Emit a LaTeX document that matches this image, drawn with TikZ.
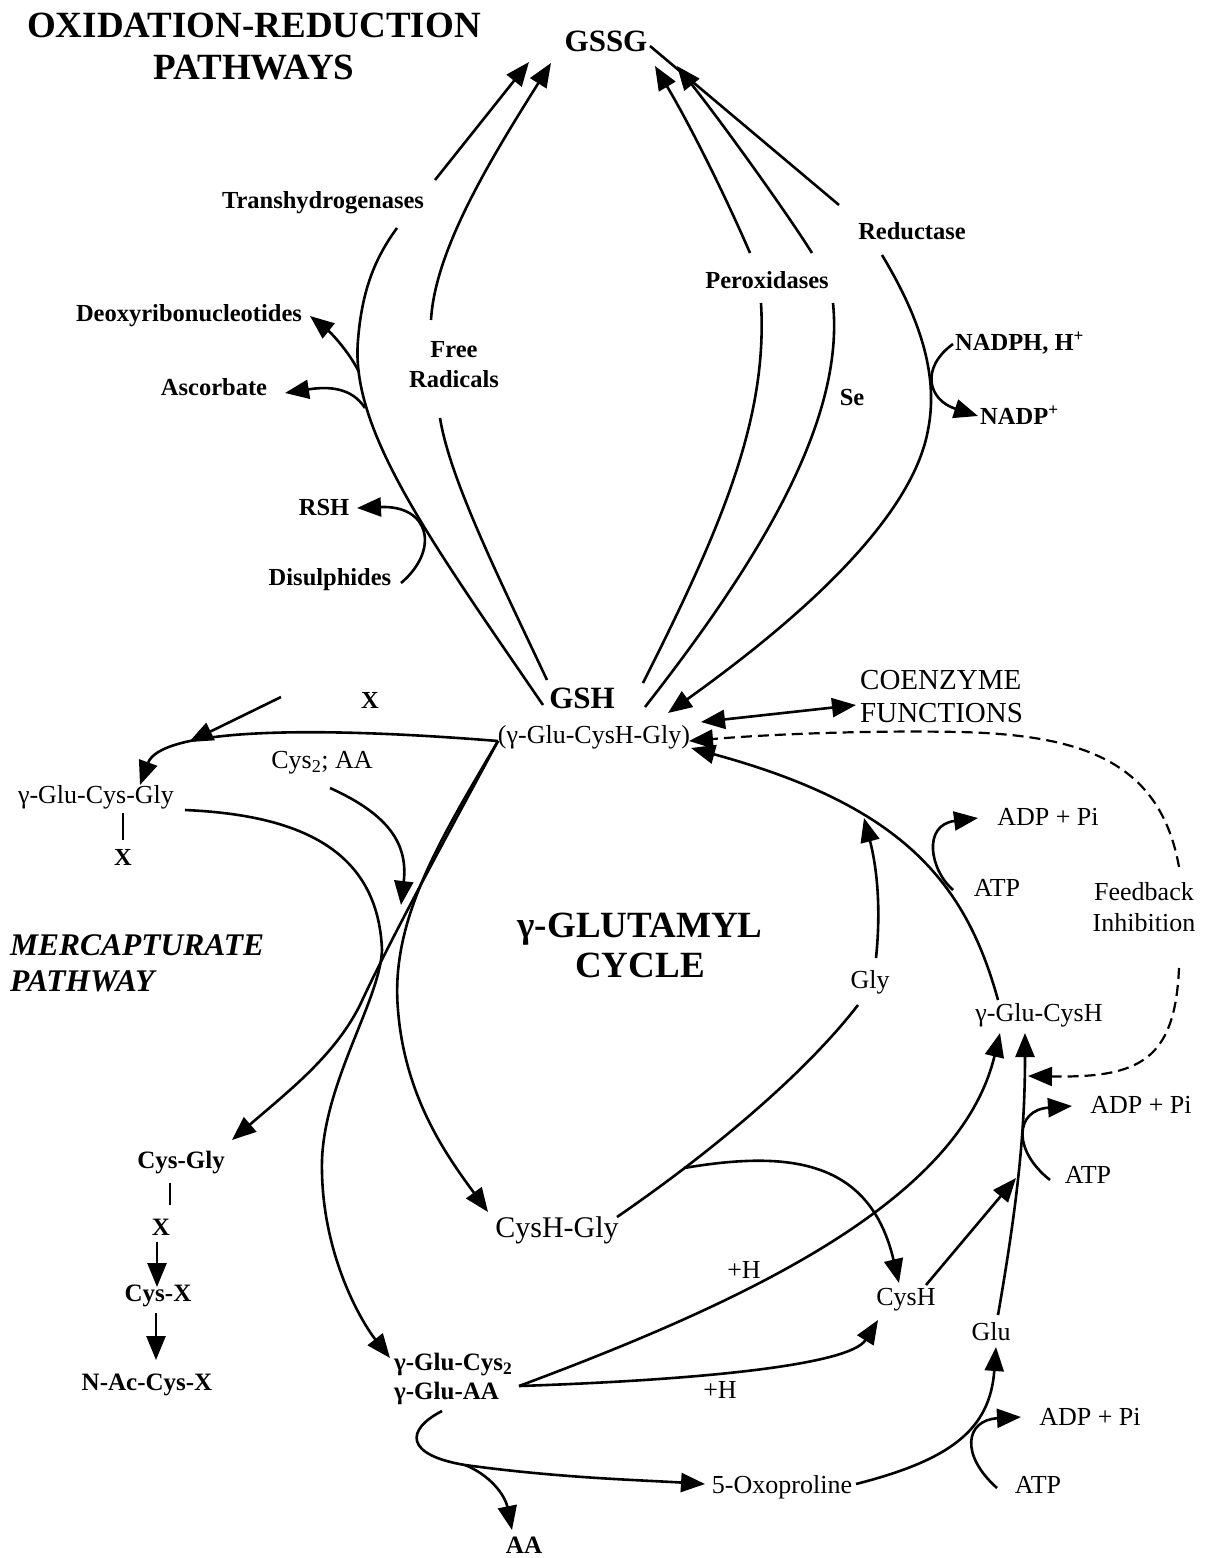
\documentclass[tikz,border=0pt]{standalone}
\usepackage{fontspec}
\setmainfont{Liberation Serif}
\usetikzlibrary{arrows.meta}
\begin{document}
\begin{tikzpicture}[x=1pt,y=-1pt,
  ln/.style={line width=2.6pt},
  thin/.style={line width=1.6pt},
  arr/.style={ln,-{Triangle[length=24pt,width=19pt]}},
  darr/.style={ln,{Triangle[length=24pt,width=19pt]}-{Triangle[length=24pt,width=19pt]}},
  dsh/.style={line width=2.2pt,dash pattern=on 11pt off 6pt},
  txt/.style={inner sep=0pt,font=\fontsize{26}{30}\selectfont},
  btxt/.style={inner sep=0pt,font=\fontsize{24.5}{28}\selectfont\bfseries},
  bb/.style={inner sep=0pt,font=\fontsize{25}{29}\selectfont\bfseries},
  ttl/.style={inner sep=0pt,align=center,font=\fontsize{37}{42}\selectfont\bfseries},
  big/.style={inner sep=0pt,font=\fontsize{31}{35}\selectfont\bfseries}
]
\useasboundingbox (0,0) rectangle (1209,1558);

% ---------- text nodes ----------
\node[ttl] (ox) at (254,47) {OXIDATION-REDUCTION\\PATHWAYS};
\node[big] (gssg) at (606,41) {GSSG};
\node[btxt] (trans) at (323,203) {Transhydrogenases};
\node[btxt] (deoxy) at (189,316) {Deoxyribonucleotides};
\node[btxt] (ascorb) at (214,387) {Ascorbate};
\node[btxt,align=center,font=\fontsize{24.5}{30}\selectfont\bfseries] (free) at (454,365) {Free\\Radicals};
\node[btxt] (rsh) at (324,508) {RSH};
\node[btxt] (disul) at (330,580) {Disulphides};
\node[btxt] (perox) at (767,280) {Peroxidases};
\node[btxt] (reduct) at (912,231) {Reductase};
\node[btxt] (se) at (852,398) {Se};
\node[btxt,anchor=west] (nadph) at (955,343) {NADPH, H\textsuperscript{+}};
\node[btxt,anchor=west] (nadp) at (980,415) {NADP\textsuperscript{+}};
\node[big] (gsh) at (582,698) {GSH};
\node[txt] (gshf) at (594,737) {(γ-Glu-CysH-Gly)};
\node[inner sep=0pt,align=left,anchor=west,font=\fontsize{29}{33}\selectfont] (coenz) at (860,697) {COENZYME\\FUNCTIONS};
\node[btxt] (x1) at (370,700) {X};
\node[txt] (gcg) at (96,797) {γ-Glu-Cys-Gly};
\node[btxt] (x2) at (123,857) {X};
\node[txt] (cysaa) at (322,763) {Cys\textsubscript{2}; AA};
\node[ttl,font=\fontsize{37}{40}\selectfont\bfseries] (glut) at (640,945) {γ-GLUTAMYL\\CYCLE};
\node[inner sep=0pt,align=left,anchor=west,font=\fontsize{31.5}{36}\selectfont\bfseries\itshape] (merc) at (10,963) {MERCAPTURATE\\PATHWAY};
\node[bb] (cysgly) at (181,1163) {Cys-Gly};
\node[bb] (x3) at (161,1227) {X};
\node[bb] (cysx) at (158,1296) {Cys-X};
\node[bb] (nac) at (147,1385) {N-Ac-Cys-X};
\node[inner sep=0pt,font=\fontsize{30}{34}\selectfont] (cyshgly) at (557,1230) {CysH-Gly};
\node[txt] (gly) at (870,982) {Gly};
\node[txt] (ggcysh) at (1039,1015) {γ-Glu-CysH};
\node[txt] (adp1) at (1048,817) {ADP + Pi};
\node[txt] (atp1) at (997,888) {ATP};
\node[txt,align=center,font=\fontsize{26}{31}\selectfont] (fb) at (1144,907) {Feedback\\Inhibition};
\node[txt] (adp2) at (1141,1105) {ADP + Pi};
\node[txt] (atp2) at (1088,1175) {ATP};
\node[txt] (cysh) at (906,1300) {CysH};
\node[txt] (glu) at (991,1332) {Glu};
\node[txt] (ph1) at (744,1270) {+H};
\node[txt] (ph2) at (720,1390) {+H};
\node[bb,anchor=west] (gc2) at (394,1365) {γ-Glu-Cys\textsubscript{2}};
\node[bb,anchor=west] (gaalab) at (394,1393) {γ-Glu-AA};
\node[txt] (oxo) at (782,1487) {5-Oxoproline};
\node[txt] (adp3) at (1090,1417) {ADP + Pi};
\node[txt] (atp3) at (1038,1485) {ATP};
\node[bb] (aa) at (524,1545) {AA};

% ---------- coordinates ----------
\coordinate (c1a) at (543,705); \coordinate (c1b) at (397,228);
\coordinate (c1c) at (435,180); \coordinate (c1d) at (529,62);
\coordinate (c2a) at (547,680); \coordinate (c2b) at (440,418);
\coordinate (c2c) at (431,320); \coordinate (c2d) at (551,63);
\coordinate (c3a) at (643,683); \coordinate (c3b) at (761,303);
\coordinate (c3c) at (750,253); \coordinate (c3d) at (655,66);
\coordinate (c4a) at (645,707); \coordinate (c4b) at (833,303);
\coordinate (c4c) at (812,253); \coordinate (c4d) at (677,66);
\coordinate (c5a) at (650,46);  \coordinate (c5b) at (839,205);
\coordinate (c5c) at (882,255); \coordinate (c5d) at (668,713);
\coordinate (dxa) at (359,372); \coordinate (dxb) at (310,316);
\coordinate (asa) at (365,408); \coordinate (asb) at (285,393);
\coordinate (dsa) at (401,583); \coordinate (dsb) at (357,508);
\coordinate (npa) at (953,344); \coordinate (npb) at (978,416);
\coordinate (cza) at (701,722); \coordinate (czb) at (856,705);
\coordinate (fba) at (1179,867); \coordinate (fbb) at (689,741);
\coordinate (fbc) at (1179,968); \coordinate (fbd) at (1028,1076);
\coordinate (gca) at (998,1000); \coordinate (gcb) at (691,748);
\coordinate (at1a) at (953,890); \coordinate (at1b) at (978,818);
\coordinate (gya) at (876,958); \coordinate (gyb) at (864,818);
\coordinate (chg) at (617,1217); \coordinate (gyc) at (858,1005);
\coordinate (brc) at (684,1168); \coordinate (chb) at (899,1283);
\coordinate (gga) at (519,1386); \coordinate (ggb) at (1000,1033);
\coordinate (ggc) at (878,1320);
\coordinate (cya) at (926,1285); \coordinate (cyb) at (1016,1178);
\coordinate (gla) at (998,1315); \coordinate (glb) at (1025,1033);
\coordinate (at2a) at (1050,1180); \coordinate (at2b) at (1072,1106);
\coordinate (oxa) at (856,1484); \coordinate (oxb) at (996,1347);
\coordinate (at3a) at (997,1488); \coordinate (at3b) at (1021,1417);
\coordinate (gaa) at (442,1411); \coordinate (spl) at (465,1465);
\coordinate (oxc) at (705,1484); \coordinate (aab) at (512,1530);
\coordinate (xa) at (281,697); \coordinate (xb) at (189,742);
\coordinate (gsl) at (498,741); \coordinate (gcgb) at (140,785);
\coordinate (v1a) at (123,813); \coordinate (v1b) at (123,840);
\coordinate (v2a) at (170,1183); \coordinate (v2b) at (170,1205);
\coordinate (m1a) at (157,1242); \coordinate (m1b) at (157,1287);
\coordinate (m2a) at (156,1313); \coordinate (m2b) at (156,1360);
\coordinate (l2a) at (185,810); \coordinate (l2b) at (390,1358);
\coordinate (l1b) at (232,1140); \coordinate (l5b) at (488,1212);
\coordinate (caa) at (330,788); \coordinate (cab) at (401,905);

% ---------- oxidation-reduction ----------
\draw[ln] (c1a) .. controls (430,540) and (350,430) .. (358,340) .. controls (362,290) and (375,258) .. (c1b);
\draw[arr] (c1c) -- (c1d);
\draw[ln] (c2a) .. controls (500,580) and (450,480) .. (c2b);
\draw[arr] (c2c) .. controls (435,250) and (490,160) .. (c2d);
\draw[ln] (c3a) .. controls (720,530) and (768,420) .. (c3b);
\draw[arr] (c3c) .. controls (725,195) and (690,125) .. (c3d);
\draw[ln] (c4a) .. controls (760,560) and (845,420) .. (c4b);
\draw[arr] (c4c) .. controls (785,210) and (720,120) .. (c4d);
\draw[ln] (c5a) -- (c5b);
\draw[arr] (c5c) .. controls (915,310) and (940,370) .. (928,430) .. controls (910,530) and (770,640) .. (c5d);
\draw[arr] (dxa) .. controls (348,350) and (330,332) .. (dxb);
\draw[arr] (asa) .. controls (352,388) and (330,386) .. (asb);
\draw[arr] (dsa) .. controls (440,550) and (430,505) .. (dsb);
\draw[arr] (npa) .. controls (920,368) and (928,400) .. (npb);

% ---------- GSH connections ----------
\draw[darr] (cza) -- (czb);
\draw[dsh,-{Triangle[length=24pt,width=19pt]}] (fba) .. controls (1160,760) and (1080,735) .. (960,732) .. controls (860,730) and (760,735) .. (fbb);
\draw[dsh,-{Triangle[length=24pt,width=19pt]}] (fbc) .. controls (1175,1060) and (1140,1078) .. (fbd);
\draw[arr] (gca) .. controls (965,880) and (900,805) .. (gcb);
\draw[arr] (at1a) .. controls (930,870) and (922,825) .. (at1b);

% ---------- gamma-glutamyl cycle ----------
\draw[arr] (gya) .. controls (882,900) and (875,860) .. (gyb);
\draw[ln] (chg) .. controls (700,1160) and (800,1080) .. (gyc);
\draw[arr] (brc) .. controls (790,1150) and (870,1160) .. (chb);
\draw[arr] (gga) .. controls (750,1300) and (960,1200) .. (ggb);
\draw[arr] (gga) .. controls (700,1380) and (850,1365) .. (ggc);
\draw[arr] (cya) -- (cyb);
\draw[arr] (gla) .. controls (1018,1200) and (1025,1130) .. (glb);
\draw[arr] (at2a) .. controls (1012,1150) and (1015,1110) .. (at2b);
\draw[arr] (oxa) .. controls (950,1460) and (990,1430) .. (oxb);
\draw[arr] (at3a) .. controls (960,1455) and (965,1420) .. (at3b);
\draw[arr] (gaa) .. controls (405,1430) and (405,1455) .. (spl) .. controls (560,1478) and (640,1480) .. (oxc);
\draw[arr] (spl) .. controls (490,1475) and (505,1495) .. (aab);

% ---------- GSH downwards ----------
\draw[arr] (gsl) .. controls (450,830) and (390,940) .. (360,1005) .. controls (335,1055) and (290,1090) .. (l1b);
\draw[arr] (gsl) .. controls (440,840) and (390,920) .. (398,1010) .. controls (405,1100) and (450,1160) .. (l5b);
\draw[arr] (l2a) .. controls (300,815) and (378,850) .. (382,950) .. controls (380,1000) and (325,1080) .. (322,1160) .. controls (320,1250) and (360,1320) .. (l2b);
\draw[arr] (caa) .. controls (390,815) and (408,845) .. (cab);

% ---------- mercapturate ----------
\draw[arr] (xa) -- (xb);
\draw[arr] (gsl) .. controls (300,725) and (160,730) .. (gcgb);
\draw[thin] (v1a) -- (v1b);
\draw[thin] (v2a) -- (v2b);
\draw[arr] (m1a) -- (m1b);
\draw[arr] (m2a) -- (m2b);
\end{tikzpicture}
\end{document}
